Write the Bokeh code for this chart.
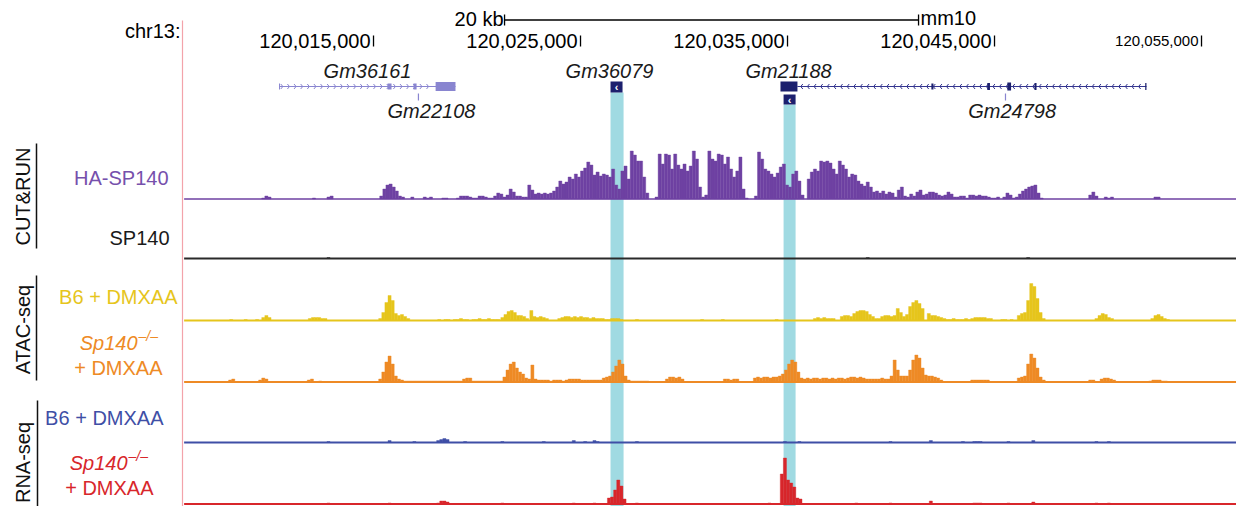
import math
from bokeh.plotting import figure
from bokeh.models import Range1d
from bokeh.embed import file_html
from bokeh.resources import INLINE
from bokeh.core.properties import value

# ---------------------------------------------------------------------------
# Genome window: chr13 (mm10), positions in kb are offsets from ORIGIN
# ---------------------------------------------------------------------------
ORIGIN = 120_000_000
BIN_KB = 0.15                      # signal bin width (kb)
VIEW_START = 119_996_980
VIEW_END = 120_056_690
TRACK_START_KB = 5.85

CHROM = "chr13:"
ASSEMBLY = "mm10"
POS_TICKS = [120_015_000, 120_025_000, 120_035_000, 120_045_000, 120_055_000]
SCALE_BAR_START_KB = 21.33
SCALE_BAR_KB = 20

# ---------------------------------------------------------------------------
# Gene annotation (kb)
# ---------------------------------------------------------------------------
GM36161_TX = (10.46, 18.96)
GM36161_EXONS = [(15.68, 15.87), (16.93, 17.08), (18.00, 18.96)]
GM21188_TX = (35.48, 52.34)
GM21188_EXONS = [(34.66, 35.48), (41.95, 42.05), (44.65, 44.78),
                 (45.62, 45.80), (46.93, 47.03), (52.28, 52.34)]
GM21188_SHORT = (34.81, 35.39)
GM36079 = (26.45, 27.03)
GM22108_KB = 17.17
GM24798_KB = 45.53

# Highlighted loci (kb)
HIGHLIGHTS = [(26.45, 27.08), (34.81, 35.39)]

# ---------------------------------------------------------------------------
# Coverage tracks: runs of (start_kb, per-bin values); zero elsewhere
# ---------------------------------------------------------------------------
HA_SP140 = [
    (9.60, [1, 3, 2]),
    (12.05, [1]),
    (12.75, [2, 3]),
    (15.30, [3, 10, 14, 15, 12, 8, 3, 2]),
    (16.80, [2]),
    (17.40, [2, 1, 2]),
    (18.30, [1, 1]),
    (19.00, [1, 3, 3, 3, 2, 1, 1, 3, 3, 2,
             1, 1, 3, 6, 5, 2, 4, 10, 7, 3,
             3, 2, 2, 14, 9, 5, 6, 5, 6, 5,
             6, 8, 12, 18, 15, 17, 22, 20, 25, 22,
             28, 31, 37, 34, 24, 27, 23, 25, 24, 22,
             30, 14, 10, 28, 33, 20, 48, 44, 38, 38,
             22, 6, 0, 0, 2, 45, 35, 45, 44, 30,
             45, 34, 30, 35, 28, 33, 48, 40, 12, 2,
             4, 48, 40, 38, 45, 44, 35, 42, 30, 22,
             28, 42, 10, 1, 0, 0, 3, 47, 40, 30,
             28, 25, 22, 26, 32, 35, 14, 12, 25, 28,
             18, 4, 0, 20, 27, 30, 28, 38, 37, 38,
             36, 30, 25, 38, 34, 30, 22, 25, 24, 18,
             15, 13, 17, 12, 7, 8, 6, 8, 5, 7,
             6, 2, 9, 12, 3, 2, 5, 3, 7, 9,
             4, 5, 7, 7, 6, 4, 3, 4, 7, 5,
             2, 2, 3, 3, 1, 4, 4, 3, 4, 3,
             3, 2, 1, 1, 2, 0, 2, 6, 4, 1,
             2, 5, 8, 10, 12, 13, 14, 6, 1]),
    (49.55, [4, 7, 3]),
    (50.30, [2, 1, 2]),
    (52.70, [2, 2]),
]

SP140 = [(12.75, [1]), (38.80, [1]), (46.55, [1])]

ATAC_B6 = [
    (8.05, [1]), (8.75, [1]), (9.30, [1]),
    (9.60, [3, 5, 3]),
    (11.85, [2, 3, 3, 3, 2, 2]),
    (15.25, [2, 8, 18, 25, 20, 7, 5, 6, 4, 2]),
    (18.10, [1, 0, 1, 1, 0, 1, 1, 2, 1, 1, 0, 1, 1, 2, 1, 1, 2, 1, 1, 1]),
    (21.15, [3, 6, 9, 10, 8, 5, 5, 4, 2]),
    (22.55, [10, 4, 3, 4, 3, 2]),
    (23.90, [2, 3, 4, 4, 3, 4, 3, 4, 3, 3, 2, 3, 2, 2]),
    (26.00, [2, 1, 1, 2, 2, 2, 1]),
    (27.65, [1]), (30.80, [1]), (31.80, [1]), (34.40, [1]),
    (36.25, [2, 3, 2, 3, 2, 2, 2]),
    (37.55, [4, 5, 5, 4, 7, 9, 10, 10, 9, 6, 4]),
    (39.20, [2, 2, 4, 5, 5, 4, 5, 12, 8, 4, 6, 14, 18, 20, 17, 12]),
    (41.75, [7, 5, 5, 4, 3]),
    (42.50, [2, 1, 1, 2, 1, 1, 1, 2, 1]),
    (43.85, [2, 3, 3, 3, 3, 2, 2]),
    (45.30, [1, 1, 0, 1]),
    (46.10, [5, 7, 8, 20, 37, 34, 22, 8, 2]),
    (49.85, [2, 5, 7, 6, 3, 2]),
    (52.55, [2, 5, 6, 4, 2, 1]),
]

ATAC_KO = [
    (8.00, [2, 3]),
    (9.45, [2, 4, 3]),
    (11.80, [2, 3]),
    (12.35, [1]),
    (15.25, [3, 10, 20, 26, 18, 6, 3, 2]),
    (16.45, [1] * 19),
    (19.30, [3, 4, 4]),
    (19.75, [1] * 10),
    (21.25, [5, 12, 18, 20, 14, 10, 8, 4, 3, 17]),
    (22.75, [3, 2, 2, 2, 2, 1, 2, 2, 2, 1, 2]),
    (24.40, [3, 3, 3, 3, 2, 2, 2, 2, 2, 2]),
    (25.90, [2, 4, 5, 6, 10, 16, 22, 18, 6]),
    (27.25, [2, 1, 1, 1, 1, 1, 1]),
    (29.10, [3, 5, 5, 4, 5, 3]),
    (31.90, [3, 3, 2, 3, 3]),
    (33.35, [4, 5, 4, 5, 5, 4, 5, 5, 6, 8, 12, 18, 22, 20, 10]),
    (35.60, [4, 3, 4, 3, 4, 4, 3, 4, 4, 3, 4, 3, 4, 4, 3]),
    (37.85, [4, 5, 5, 4, 5, 4, 3, 3, 3, 3, 3, 4, 3, 3]),
    (39.95, [6, 22, 12, 6, 6, 6, 12, 22, 27, 24, 14]),
    (41.60, [7, 6, 6, 5, 4, 2]),
    (43.85, [2, 2, 2, 2, 2, 2]),
    (46.10, [4, 5, 6, 18, 28, 24, 14, 5, 2]),
    (49.55, [2, 2]),
    (50.10, [3, 4, 4, 3, 2]),
    (52.45, [1, 2, 2, 2, 1, 1]),
]

RNA_B6 = [
    (12.75, [1]), (15.70, [2]), (16.90, [1]), (18.05, [2, 3, 4, 3]),
    (19.35, [1]), (21.15, [1]), (23.15, [1]), (24.60, [2]), (25.15, [1]),
    (25.60, [2, 1]), (27.65, [1]), (34.80, [1]), (35.50, [1]),
    (39.90, [1]), (41.85, [2]), (43.40, [1]), (43.95, [1, 1, 1]),
    (45.60, [1]), (46.80, [2]), (49.85, [1]), (50.45, [1]),
]

RNA_KO = [
    (12.75, [1]), (15.70, [1]), (18.05, [1, 3, 3, 2]), (21.15, [1]),
    (24.60, [1]), (25.60, [1]),
    (26.30, [6, 7, 14, 24, 18, 5]),
    (27.65, [1]), (34.05, [1]),
    (34.65, [30, 46, 24, 21, 17, 6, 5]),
    (38.25, [1]), (39.90, [1]), (41.85, [3]), (43.95, [1, 1, 1]),
    (45.60, [1]), (46.80, [2]), (49.85, [1]), (50.45, [1]),
]

# ---------------------------------------------------------------------------
# Styling
# ---------------------------------------------------------------------------
W, H = 1236, 506
FONT = value("Liberation Sans")
PURPLE = "#6E41A2"
BLACK = "#2a2a2a"
YELLOW = "#E6C51C"
ORANGE = "#EE8A25"
BLUE = "#3F4FA6"
RED = "#D8262B"
CYAN = "#A0DAE2"
GENE_LIGHT = "#8985D0"
GENE_DARK = "#1C206E"
GENE_LINE = "#34358F"


def bp(kb):
    return ORIGIN + kb * 1000.0


p = figure(width=W, height=H, output_backend="svg", toolbar_location=None,
           x_range=Range1d(VIEW_START, VIEW_END), y_range=Range1d(H, 0),
           x_axis_type=None, y_axis_type=None, min_border=0,
           outline_line_color=None, background_fill_color="white",
           border_fill_color="white")
p.grid.visible = False
p.extra_x_ranges = {"px": Range1d(0, W)}

# ---------------------------------------------------------------------------
# Highlight bands
# ---------------------------------------------------------------------------
band_tops = [92, 104]
p.quad(left=[bp(a) for a, _ in HIGHLIGHTS], right=[bp(b) for _, b in HIGHLIGHTS],
       top=band_tops, bottom=[H, H], fill_color=CYAN, line_color=None)

# ---------------------------------------------------------------------------
# Coverage tracks
# ---------------------------------------------------------------------------
tracks = [
    ("ha", HA_SP140, PURPLE, 198.5, 1.5),
    ("sp", SP140, BLACK, 258.0, 1.8),
    ("atac_b6", ATAC_B6, YELLOW, 320.0, 2.0),
    ("atac_ko", ATAC_KO, ORANGE, 381.5, 2.0),
    ("rna_b6", RNA_B6, BLUE, 442.0, 2.0),
    ("rna_ko", RNA_KO, RED, 503.5, 2.0),
]
for name, runs, color, base, lw in tracks:
    p.extra_y_ranges[name] = Range1d(base - H, base)
    left, right, top = [], [], []
    for start_kb, vals in runs:
        for i, v in enumerate(vals):
            if v <= 0:
                continue
            l = bp(start_kb + i * BIN_KB)
            left.append(l)
            right.append(l + BIN_KB * 1000)
            top.append(v)
    p.quad(left=left, right=right, bottom=0, top=top, y_range_name=name,
           fill_color=color, line_color=color, line_width=0.4)
    p.segment(x0=[bp(TRACK_START_KB)], x1=[VIEW_END], y0=[0], y1=[0],
              y_range_name=name, line_color=color, line_width=lw)

# ---------------------------------------------------------------------------
# Ruler: chromosome, scale bar, position ticks
# ---------------------------------------------------------------------------
p.segment(x0=[182], x1=[182], y0=[20], y1=[H], x_range_name="px",
          line_color="#F3A3AA", line_width=1.2)
p.text(x=[180], y=[30], text=[CHROM], x_range_name="px", text_font=FONT,
       text_font_size="20px", text_align="right", text_baseline="middle",
       text_color="black")

sb0, sb1 = bp(SCALE_BAR_START_KB), bp(SCALE_BAR_START_KB + SCALE_BAR_KB)
p.segment(x0=[sb0], x1=[sb1], y0=[19.5], y1=[19.5], line_color="black", line_width=1.3)
p.segment(x0=[sb0, sb1], x1=[sb0, sb1], y0=[14, 14], y1=[25, 25],
          line_color="black", line_width=1.3)
p.text(x=[sb0], y=[18], text=[f"{SCALE_BAR_KB} kb"], x_offset=-1, text_font=FONT,
       text_font_size="20px", text_align="right", text_baseline="middle")
p.text(x=[sb1], y=[17.5], text=[ASSEMBLY], x_offset=2, text_font=FONT,
       text_font_size="20px", text_align="left", text_baseline="middle")

p.segment(x0=POS_TICKS, x1=POS_TICKS, y0=[35] * 5, y1=[46] * 5,
          line_color="black", line_width=1.3)
p.text(x=POS_TICKS[:4], y=[40] * 4, text=[f"{t:,}" for t in POS_TICKS[:4]],
       x_offset=-3, text_font=FONT, text_font_size="20px",
       text_align="right", text_baseline="middle")
p.text(x=POS_TICKS[4:], y=[40], text=[f"{t:,}" for t in POS_TICKS[4:]],
       x_offset=-3, text_font=FONT, text_font_size="15px",
       text_align="right", text_baseline="middle")

# ---------------------------------------------------------------------------
# Gene models
# ---------------------------------------------------------------------------
GENE_Y = 86


def chevrons(kb0, kb1, direction, color):
    xs0, xs1, ys0, ys1 = [], [], [], []
    k = kb0 + 0.16
    while k < kb1 - 0.1:
        tip = bp(k)
        tail = bp(k - direction * 0.1)
        for dy in (-2.5, 2.5):
            xs0.append(tail); ys0.append(GENE_Y + dy)
            xs1.append(tip); ys1.append(GENE_Y)
        k += 0.32
    p.segment(x0=xs0, x1=xs1, y0=ys0, y1=ys1, line_color=color, line_width=1)


# Gm36161 (+ strand)
p.segment(x0=[bp(GM36161_TX[0])], x1=[bp(GM36161_TX[1])], y0=[GENE_Y], y1=[GENE_Y],
          line_color=GENE_LIGHT, line_width=1.2)
chevrons(GM36161_TX[0], GM36161_EXONS[-1][0], 1, GENE_LIGHT)
ex_h = [6, 6, 9]
p.quad(left=[bp(a) for a, _ in GM36161_EXONS], right=[bp(b) for _, b in GM36161_EXONS],
       top=[GENE_Y - h / 2 for h in ex_h], bottom=[GENE_Y + h / 2 for h in ex_h],
       fill_color=GENE_LIGHT, line_color=None)
p.segment(x0=[bp(GM36161_TX[0])], x1=[bp(GM36161_TX[0])], y0=[GENE_Y - 3], y1=[GENE_Y + 3],
          line_color=GENE_LIGHT, line_width=1)

# small RNA genes
p.segment(x0=[bp(GM22108_KB)], x1=[bp(GM22108_KB)], y0=[93], y1=[100],
          line_color=GENE_LIGHT, line_width=1.2)
p.segment(x0=[bp(GM24798_KB)], x1=[bp(GM24798_KB)], y0=[93], y1=[100],
          line_color=GENE_LIGHT, line_width=1.2)

# Gm21188 (- strand)
p.segment(x0=[bp(GM21188_TX[0])], x1=[bp(GM21188_TX[1])], y0=[GENE_Y], y1=[GENE_Y],
          line_color=GENE_LINE, line_width=1.2)
chevrons(GM21188_TX[0], GM21188_TX[1], -1, GENE_LINE)
g_h = [10, 6, 7, 8, 7, 7]
p.quad(left=[bp(a) for a, _ in GM21188_EXONS], right=[bp(b) for _, b in GM21188_EXONS],
       top=[GENE_Y - h / 2 for h in g_h], bottom=[GENE_Y + h / 2 for h in g_h],
       fill_color=GENE_DARK, line_color=None)

# single-exon boxes with strand marks
boxes = [(GM36079, 81, 92), (GM21188_SHORT, 94, 104)]
p.quad(left=[bp(b[0][0]) for b in boxes], right=[bp(b[0][1]) for b in boxes],
       top=[b[1] for b in boxes], bottom=[b[2] for b in boxes],
       fill_color=GENE_DARK, line_color=None)
p.text(x=[bp(sum(b[0]) / 2) for b in boxes], y=[(b[1] + b[2]) / 2 for b in boxes],
       text=["‹", "‹"], text_font=FONT, text_font_size="11px", text_font_style="bold",
       text_color="white", text_align="center", text_baseline="middle")

gene_names = ["Gm36161", "Gm22108", "Gm36079", "Gm21188", "Gm24798"]
gene_label_kb = [14.71, 17.80, 26.40, 35.05, 45.85]
gene_label_y = [70, 110, 70, 70, 110]
p.text(x=[bp(k) for k in gene_label_kb], y=gene_label_y, text=gene_names,
       text_font=FONT, text_font_size="20px", text_font_style="italic",
       text_align="center", text_baseline="middle", text_color="#1a1a1a")

# ---------------------------------------------------------------------------
# Track labels
# ---------------------------------------------------------------------------
def label(x, y, txt, color, size="20px", style="normal", align="right"):
    p.text(x=[x], y=[y], text=[txt], x_range_name="px", text_font=FONT,
           text_font_size=size, text_font_style=style, text_color=color,
           text_align=align, text_baseline="middle")


label(168, 177.5, "HA-SP140", "#7650AC")
label(169, 237, "SP140", "#1a1a1a")
label(177, 296, "B6 + DMXAA", YELLOW)
label(137, 342, "Sp140", ORANGE, style="italic")
label(138, 335, "–/–", ORANGE, size="14px", style="italic", align="left")
label(162, 367, "+ DMXAA", ORANGE)
label(163, 417, "B6 + DMXAA", BLUE)
label(127, 462, "Sp140", RED, style="italic")
label(128, 455, "–/–", RED, size="14px", style="italic", align="left")
label(153, 487, "+ DMXAA", RED)

groups = [("CUT&RUN", 196, 36, 143, 248),
          ("ATAC-seq", 329, 36, 275, 380),
          ("RNA-seq", 462, 37, 400, H)]
for txt, yc, lx, y0, y1 in groups:
    p.text(x=[22], y=[yc], text=[txt], x_range_name="px", angle=math.pi / 2,
           text_font=FONT, text_font_size="20px", text_color="#111111",
           text_align="center", text_baseline="middle")
    p.segment(x0=[lx], x1=[lx], y0=[y0], y1=[y1], x_range_name="px",
              line_color="#111111", line_width=1.5)

open("out.html", "w").write(file_html(p, INLINE))
